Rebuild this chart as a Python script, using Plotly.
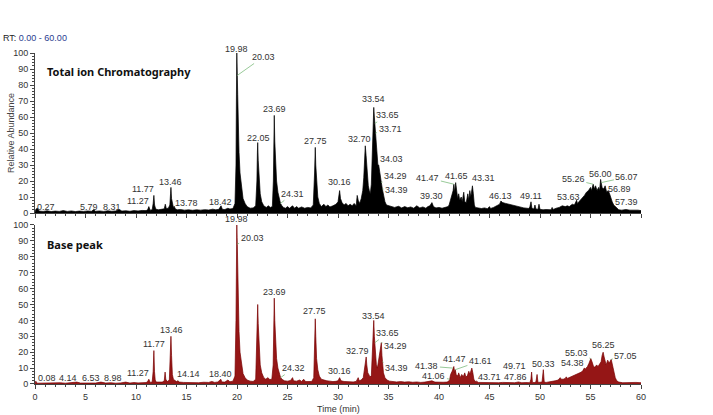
import numpy as np
import plotly.graph_objects as go

# Total ion chromatogram: (retention time [min], relative abundance [%])
TIC = [
    (0.0, 0.5), (0.1, 2.5), (0.27, 3.0), (0.4, 1.2), (0.8, 1.0), (1.2, 1.4), (1.6, 0.9),
    (2.0, 1.2), (2.4, 1.0), (2.8, 1.5), (3.2, 1.0), (3.6, 1.3), (4.0, 0.9), (4.4, 1.2),
    (4.8, 1.0), (5.2, 1.3), (5.6, 1.1), (5.79, 2.0), (6.0, 1.1), (6.4, 1.3), (6.8, 1.0),
    (7.2, 1.4), (7.6, 1.1), (8.0, 1.3), (8.31, 2.2), (8.6, 1.2), (9.0, 1.4), (9.4, 1.1),
    (9.8, 1.5), (10.2, 1.3), (10.6, 1.6), (11.0, 1.5), (11.15, 2.0), (11.27, 4.0),
    (11.4, 1.8), (11.6, 2.0), (11.7, 6.0), (11.77, 11.0), (11.84, 5.0), (11.95, 2.5),
    (12.2, 2.0), (12.5, 2.2), (12.8, 2.6), (12.9, 5.5), (13.0, 2.8), (13.2, 3.0),
    (13.35, 5.0), (13.42, 12.0), (13.46, 16.0), (13.52, 9.0), (13.6, 5.0), (13.7, 3.5),
    (13.78, 4.2), (13.9, 2.5), (14.1, 2.0), (14.4, 2.2), (14.8, 1.8), (15.2, 2.0),
    (15.6, 1.7), (16.0, 2.0), (16.4, 1.8), (16.8, 2.1), (17.2, 1.9), (17.6, 2.4),
    (17.9, 2.0), (18.2, 2.3), (18.42, 4.5), (18.55, 2.3), (18.8, 2.2), (19.1, 3.0),
    (19.3, 2.5), (19.6, 2.8), (19.8, 6.0), (19.9, 30.0), (19.94, 70.0), (19.98, 100.0),
    (20.01, 90.0), (20.03, 86.0), (20.07, 74.0), (20.12, 55.0), (20.2, 38.0), (20.3, 25.0),
    (20.45, 15.0), (20.6, 9.0), (20.8, 6.0), (21.0, 4.0), (21.3, 3.0), (21.6, 3.2),
    (21.85, 4.5), (21.97, 20.0), (22.02, 38.0), (22.05, 44.0), (22.1, 33.0), (22.18, 20.0),
    (22.3, 12.0), (22.45, 7.0), (22.65, 4.5), (22.9, 3.5), (23.1, 4.5), (23.3, 3.5),
    (23.5, 4.0), (23.6, 20.0), (23.65, 48.0), (23.69, 61.0), (23.74, 45.0), (23.82, 30.0),
    (23.92, 20.0), (24.05, 13.0), (24.2, 8.0), (24.31, 6.0), (24.45, 4.5), (24.6, 3.5),
    (24.8, 3.0), (25.0, 4.0), (25.2, 3.0), (25.5, 4.5), (25.7, 3.0), (25.9, 4.0),
    (26.1, 3.0), (26.4, 3.8), (26.7, 3.0), (27.0, 3.5), (27.3, 3.2), (27.55, 5.0),
    (27.68, 25.0), (27.75, 41.0), (27.8, 30.0), (27.88, 18.0), (28.0, 10.0), (28.15, 6.0),
    (28.35, 4.0), (28.6, 5.5), (28.8, 4.0), (29.0, 5.0), (29.2, 3.8), (29.5, 4.5),
    (29.8, 5.5), (30.0, 7.0), (30.1, 10.0), (30.16, 14.0), (30.25, 9.0), (30.4, 6.5),
    (30.6, 5.0), (30.8, 6.0), (31.0, 4.5), (31.2, 5.5), (31.4, 4.5), (31.6, 6.0),
    (31.8, 4.5), (31.9, 11.0), (32.0, 8.0), (32.15, 6.0), (32.3, 9.0), (32.45, 14.0),
    (32.55, 22.0), (32.65, 35.0), (32.7, 42.0), (32.78, 36.0), (32.88, 25.0), (33.0, 17.0),
    (33.1, 14.0), (33.2, 12.0), (33.3, 18.0), (33.4, 35.0), (33.48, 55.0), (33.54, 66.0),
    (33.6, 60.0), (33.65, 56.0), (33.71, 50.0), (33.78, 40.0), (33.88, 34.0), (33.95, 30.0),
    (34.03, 30.0), (34.1, 26.0), (34.2, 22.0), (34.29, 19.0), (34.39, 15.0), (34.5, 11.0),
    (34.65, 7.0), (34.8, 5.0), (35.0, 4.5), (35.3, 4.0), (35.6, 3.5), (36.0, 4.2),
    (36.3, 3.2), (36.6, 4.0), (36.9, 3.3), (37.2, 3.8), (37.5, 3.0), (37.8, 4.5),
    (38.1, 3.2), (38.4, 3.8), (38.7, 3.0), (38.9, 4.0), (39.1, 4.5), (39.3, 6.5),
    (39.45, 4.0), (39.7, 3.2), (40.0, 3.5), (40.3, 3.0), (40.6, 3.6), (40.9, 4.0),
    (41.0, 5.0), (41.15, 9.0), (41.3, 12.0), (41.4, 14.0), (41.47, 18.0), (41.55, 13.0),
    (41.65, 19.0), (41.75, 12.0), (41.85, 9.0), (41.95, 12.0), (42.05, 8.0), (42.2, 10.0),
    (42.3, 7.0), (42.45, 13.0), (42.55, 7.0), (42.7, 6.5), (42.85, 12.0), (42.95, 8.0),
    (43.05, 14.0), (43.15, 10.0), (43.25, 15.0), (43.31, 17.0), (43.4, 12.0), (43.5, 5.0),
    (43.6, 3.5), (43.9, 3.0), (44.2, 2.8), (44.5, 3.2), (44.8, 2.7), (45.0, 4.0),
    (45.1, 2.8), (45.4, 3.5), (45.7, 4.5), (46.0, 5.5), (46.13, 7.5), (46.3, 6.5),
    (46.6, 6.0), (46.9, 5.5), (47.2, 5.0), (47.5, 4.5), (47.8, 4.0), (48.1, 3.5),
    (48.4, 3.2), (48.7, 3.0), (48.9, 2.8), (49.0, 4.0), (49.11, 7.0), (49.2, 3.0),
    (49.4, 2.5), (49.5, 5.0), (49.6, 2.5), (49.8, 2.3), (49.9, 5.5), (50.0, 2.3),
    (50.3, 2.0), (50.6, 2.2), (50.9, 1.8), (51.1, 2.0), (51.2, 3.5), (51.3, 2.2),
    (51.6, 3.0), (51.9, 3.5), (52.2, 4.5), (52.5, 4.0), (52.7, 4.5), (52.9, 4.0),
    (53.2, 5.5), (53.4, 5.0), (53.63, 8.0), (53.7, 6.0), (53.85, 7.0), (54.0, 8.0),
    (54.2, 9.0), (54.4, 11.0), (54.6, 13.0), (54.8, 14.0), (55.0, 16.0), (55.1, 14.0),
    (55.26, 18.0), (55.4, 15.0), (55.5, 17.0), (55.65, 14.0), (55.8, 16.0), (55.9, 14.0),
    (56.0, 21.0), (56.07, 19.0), (56.15, 16.0), (56.3, 15.0), (56.45, 17.0), (56.6, 13.0),
    (56.75, 14.0), (56.89, 12.0), (57.0, 9.0), (57.15, 7.0), (57.3, 5.0), (57.39, 4.5),
    (57.55, 3.0), (57.8, 2.0), (58.1, 1.8), (58.5, 2.2), (58.9, 1.8), (59.3, 2.0),
    (59.7, 1.8), (60.0, 1.5),
]

# Base peak chromatogram: (retention time [min], relative abundance [%])
BPC = [
    (0.0, 0.3), (0.08, 1.8), (0.2, 0.5), (0.6, 0.6), (1.0, 0.4), (1.5, 0.7), (2.0, 0.5),
    (2.5, 0.8), (3.0, 0.5), (3.5, 0.7), (4.14, 1.2), (4.5, 0.6), (5.0, 0.5), (5.5, 0.8),
    (6.0, 0.6), (6.53, 1.2), (7.0, 0.6), (7.5, 0.8), (8.0, 0.5), (8.5, 0.7), (8.98, 1.2),
    (9.4, 0.6), (9.8, 0.9), (10.2, 0.7), (10.6, 0.8), (11.0, 0.9), (11.15, 1.5),
    (11.27, 3.0), (11.4, 1.0), (11.6, 1.2), (11.7, 8.0), (11.77, 21.0), (11.83, 8.0),
    (11.9, 2.5), (12.0, 1.2), (12.3, 1.0), (12.6, 1.2), (12.8, 2.0), (12.88, 7.5),
    (12.95, 3.0), (13.1, 1.5), (13.3, 2.5), (13.4, 16.0), (13.46, 30.0), (13.52, 18.0),
    (13.6, 6.0), (13.7, 3.0), (13.85, 2.0), (14.0, 1.5), (14.14, 2.0), (14.3, 1.2),
    (14.7, 1.0), (15.2, 0.9), (15.7, 1.0), (16.2, 0.8), (16.7, 1.1), (17.2, 1.0),
    (17.5, 1.6), (17.8, 1.0), (18.1, 1.3), (18.4, 3.0), (18.5, 1.3), (18.8, 1.2),
    (19.1, 2.5), (19.3, 1.4), (19.6, 1.8), (19.8, 5.0), (19.9, 40.0), (19.95, 85.0),
    (19.98, 100.0), (20.01, 92.0), (20.03, 88.0), (20.07, 74.0), (20.12, 52.0),
    (20.2, 33.0), (20.3, 20.0), (20.45, 11.0), (20.6, 6.5), (20.8, 4.0), (21.0, 2.5),
    (21.3, 1.8), (21.6, 1.6), (21.85, 3.0), (21.97, 30.0), (22.02, 46.0), (22.05, 50.0),
    (22.1, 38.0), (22.18, 22.0), (22.3, 12.0), (22.45, 7.0), (22.65, 4.0), (22.85, 3.0),
    (23.05, 4.0), (23.25, 2.8), (23.45, 3.0), (23.58, 12.0), (23.64, 40.0), (23.69, 54.0),
    (23.74, 40.0), (23.82, 26.0), (23.92, 16.0), (24.05, 10.0), (24.2, 6.0), (24.32, 4.0),
    (24.5, 2.8), (24.7, 2.0), (25.0, 1.8), (25.3, 2.2), (25.5, 4.0), (25.6, 2.0),
    (25.9, 1.8), (26.2, 2.5), (26.4, 1.6), (26.6, 3.0), (26.8, 1.5), (27.1, 1.7),
    (27.4, 1.6), (27.6, 4.0), (27.7, 28.0), (27.75, 41.0), (27.8, 30.0), (27.88, 16.0),
    (28.0, 9.0), (28.15, 5.0), (28.35, 3.0), (28.6, 2.5), (28.9, 2.0), (29.2, 1.8),
    (29.5, 1.5), (29.8, 1.7), (30.0, 2.0), (30.16, 4.0), (30.3, 2.0), (30.6, 1.6),
    (30.9, 1.4), (31.2, 1.5), (31.5, 1.3), (31.8, 1.6), (32.0, 4.0), (32.1, 2.0),
    (32.3, 2.5), (32.5, 4.0), (32.65, 10.0), (32.74, 15.0), (32.79, 17.0), (32.85, 12.0),
    (32.95, 7.0), (33.05, 6.0), (33.15, 4.5), (33.3, 5.0), (33.42, 20.0), (33.5, 35.0),
    (33.54, 40.0), (33.6, 30.0), (33.65, 26.0), (33.72, 20.0), (33.8, 12.0), (33.9, 10.0),
    (34.0, 14.0), (34.1, 20.0), (34.2, 25.0), (34.29, 26.0), (34.35, 18.0), (34.39, 14.0),
    (34.5, 7.0), (34.65, 4.0), (34.85, 2.5), (35.1, 1.8), (35.4, 1.5), (35.8, 1.3),
    (36.2, 1.5), (36.6, 1.2), (37.0, 1.4), (37.4, 1.1), (37.8, 1.3), (38.2, 1.0),
    (38.6, 1.2), (39.0, 1.5), (39.3, 2.0), (39.6, 1.2), (40.0, 1.0), (40.4, 1.1),
    (40.8, 1.2), (41.0, 2.0), (41.06, 3.0), (41.15, 6.0), (41.3, 8.0), (41.38, 10.0),
    (41.47, 11.0), (41.55, 7.0), (41.61, 9.0), (41.7, 6.0), (41.85, 5.0), (41.95, 7.0),
    (42.1, 4.0), (42.25, 6.0), (42.4, 4.5), (42.55, 7.0), (42.65, 4.5), (42.8, 5.0),
    (42.95, 8.0), (43.05, 6.0), (43.15, 9.0), (43.25, 10.0), (43.35, 7.0), (43.45, 3.0),
    (43.6, 1.5), (43.71, 1.8), (43.9, 1.0), (44.3, 0.9), (44.7, 1.0), (45.1, 0.8),
    (45.5, 1.0), (45.9, 0.8), (46.3, 1.0), (46.7, 0.8), (47.1, 0.9), (47.5, 0.8),
    (47.86, 1.3), (48.2, 0.8), (48.6, 0.9), (49.0, 0.8), (49.1, 3.0), (49.17, 7.5),
    (49.25, 1.0), (49.5, 0.9), (49.6, 1.5), (49.71, 6.0), (49.8, 1.0), (50.0, 0.9),
    (50.2, 1.2), (50.33, 9.0), (50.42, 1.2), (50.6, 1.0), (50.9, 1.2), (51.2, 1.5),
    (51.5, 2.0), (51.8, 2.5), (52.0, 4.0), (52.1, 3.0), (52.3, 3.0), (52.5, 3.5),
    (52.6, 4.5), (52.7, 3.5), (52.9, 4.0), (53.1, 4.5), (53.3, 5.0), (53.5, 5.5),
    (53.7, 6.0), (53.9, 6.5), (54.1, 7.5), (54.25, 8.5), (54.38, 10.0), (54.5, 9.5),
    (54.7, 11.0), (54.85, 13.0), (55.03, 16.0), (55.15, 14.0), (55.3, 11.0), (55.45, 10.5),
    (55.6, 12.0), (55.75, 11.0), (55.9, 13.0), (56.05, 14.0), (56.15, 18.0), (56.25, 20.0),
    (56.35, 17.0), (56.45, 13.0), (56.55, 12.0), (56.7, 15.0), (56.85, 13.0), (57.05, 15.5),
    (57.15, 12.0), (57.3, 7.0), (57.45, 4.0), (57.6, 2.0), (57.8, 1.2), (58.2, 0.8),
    (58.6, 1.0), (59.0, 0.8), (59.5, 1.0), (60.0, 0.8),
]

TIC_PEAK_LABELS = [
    "0.27", "5.79", "8.31", "11.27", "11.77", "13.46", "13.78", "18.42", "19.98", "20.03",
    "22.05", "23.69", "24.31", "27.75", "30.16", "32.70", "33.54", "33.65", "33.71",
    "34.03", "34.29", "34.39", "39.30", "41.47", "41.65", "43.31", "46.13", "49.11",
    "53.63", "55.26", "56.00", "56.07", "56.89", "57.39",
]
BPC_PEAK_LABELS = [
    "0.08", "4.14", "6.53", "8.98", "11.27", "11.77", "13.46", "14.14", "18.40", "19.98",
    "20.03", "23.69", "24.32", "27.75", "30.16", "32.79", "33.54", "33.65", "34.29",
    "34.39", "41.38", "41.06", "41.47", "41.61", "43.71", "49.71", "47.86", "50.33",
    "54.38", "55.03", "56.25", "57.05",
]

# label placement (time, abundance) of each label's centre
TIC_LABEL_POS = {
    "0.27": (1.1, 3.8), "5.79": (5.35, 3.8), "8.31": (7.6, 3.8), "11.27": (10.2, 7.5),
    "11.77": (10.7, 15.0), "13.46": (13.46, 19.4), "13.78": (15.0, 6.0), "18.42": (18.4, 7.0),
    "19.98": (19.97, 102.5), "20.03": (22.6, 97.5), "22.05": (22.1, 47.0),
    "23.69": (23.67, 65.0), "24.31": (25.5, 12.0), "27.75": (27.8, 45.0),
    "30.16": (30.1, 19.4), "32.70": (32.1, 46.0), "33.54": (33.56, 71.0),
    "33.65": (34.9, 61.0), "33.71": (35.15, 52.5), "34.03": (35.3, 34.0),
    "34.29": (35.7, 23.0), "34.39": (35.8, 14.4), "39.30": (39.3, 10.6),
    "41.47": (38.9, 22.0), "41.65": (41.7, 23.0), "43.31": (44.4, 22.0),
    "46.13": (46.1, 10.6), "49.11": (49.1, 10.6), "53.63": (52.8, 10.0),
    "55.26": (53.3, 21.0), "56.00": (56.0, 24.4), "56.07": (58.6, 22.5),
    "56.89": (57.9, 15.0), "57.39": (58.6, 7.0),
}
BPC_LABEL_POS = {
    "0.08": (1.15, 3.8), "4.14": (3.3, 3.8), "6.53": (5.5, 3.8), "8.98": (7.7, 3.8),
    "11.27": (10.2, 7.0), "11.77": (11.8, 25.0), "13.46": (13.47, 34.0), "14.14": (15.2, 6.3),
    "18.40": (18.4, 6.3), "19.98": (19.98, 104.0), "20.03": (21.5, 92.0),
    "23.69": (23.67, 58.0), "24.32": (25.6, 10.0), "27.75": (27.7, 46.0),
    "30.16": (30.1, 8.0), "32.79": (31.9, 21.0), "33.54": (33.56, 43.0),
    "33.65": (34.9, 32.0), "34.29": (35.7, 24.0), "34.39": (35.8, 10.0),
    "41.38": (38.8, 11.3), "41.06": (39.5, 5.0), "41.47": (41.5, 16.0),
    "41.61": (44.1, 14.5), "43.71": (45.0, 4.4), "49.71": (47.5, 11.3),
    "47.86": (47.6, 4.4), "50.33": (50.3, 12.6), "54.38": (53.2, 13.0),
    "55.03": (53.6, 19.5), "56.25": (56.25, 24.5), "57.05": (58.5, 17.6),
}
TIC_LEADERS = {"11.77", "13.78", "20.03", "24.31", "33.65", "33.71", "34.29", "34.39",
               "41.47", "55.26", "56.07", "56.89", "57.39"}
BPC_LEADERS = {"14.14", "20.03", "24.32", "33.65", "34.29", "34.39", "41.38", "41.06",
               "41.61", "55.03", "57.05"}

LABEL_FONT = dict(family="Arial", size=9, color="#333333")
AXIS_COLOR = "#444444"
LEADER_COLOR = "#7dbb7d"


def peak_annotations(points, labels, positions, leaders, xref, yref):
    t = np.array([p[0] for p in points])
    v = np.array([p[1] for p in points])
    out = []
    for lab in labels:
        lx, ly = positions[lab]
        if lab in leaders:
            rt = float(lab)
            out.append(dict(
                x=rt, y=float(np.interp(rt, t, v)), xref=xref, yref=yref,
                ax=lx, ay=ly, axref=xref, ayref=yref, text=lab, showarrow=True,
                arrowhead=0, arrowwidth=0.8, arrowcolor=LEADER_COLOR,
                font=LABEL_FONT, standoff=0,
            ))
        else:
            # domain reference so labels above the 100 % line are not hidden
            out.append(dict(
                x=lx, y=ly / 100.0, xref=xref, yref=yref + " domain", text=lab,
                showarrow=False, xanchor="center", yanchor="middle", font=LABEL_FONT,
            ))
    return out


fig = go.Figure()
fig.add_trace(go.Scatter(
    x=[p[0] for p in TIC], y=[p[1] for p in TIC], xaxis="x2", yaxis="y2",
    mode="lines", fill="tozeroy", fillcolor="#000000",
    line=dict(color="#000000", width=0.7), hoverinfo="skip",
))
fig.add_trace(go.Scatter(
    x=[p[0] for p in BPC], y=[p[1] for p in BPC], xaxis="x", yaxis="y",
    mode="lines", fill="tozeroy", fillcolor="#951616",
    line=dict(color="#7a0000", width=0.7), hoverinfo="skip",
))

yaxis_common = dict(
    range=[0, 100], dtick=10, ticks="outside", ticklen=4, tickwidth=1,
    tickcolor=AXIS_COLOR, showline=True, linecolor=AXIS_COLOR, linewidth=1,
    showgrid=False, zeroline=False, tickfont=dict(family="Arial", size=9, color="#333333"),
    minor=dict(dtick=2, ticks="outside", ticklen=2, tickcolor=AXIS_COLOR),
    fixedrange=True, automargin=False,
)
xaxis_common = dict(
    range=[0, 60], dtick=5, ticks="outside", ticklen=4, tickwidth=1,
    tickcolor=AXIS_COLOR, showline=True, linecolor=AXIS_COLOR, linewidth=1,
    showgrid=False, zeroline=False, tickfont=dict(family="Arial", size=9, color="#333333"),
    minor=dict(dtick=1, ticks="outside", ticklen=2, tickcolor=AXIS_COLOR),
    fixedrange=True, automargin=False,
)

annotations = []
annotations += peak_annotations(TIC, TIC_PEAK_LABELS, TIC_LABEL_POS, TIC_LEADERS, "x2", "y2")
annotations += peak_annotations(BPC, BPC_PEAK_LABELS, BPC_LABEL_POS, BPC_LEADERS, "x", "y")
annotations += [
    dict(x=-34 / 606, y=1.045, xref="paper", yref="paper", xanchor="left", yanchor="middle",
         showarrow=False, text="RT: <span style='color:#2a3d8f'>0.00 - 60.00</span>",
         font=dict(family="Arial", size=9, color="#222222")),
    dict(x=0.0165, y=0.9456, xref="paper", yref="paper", xanchor="left", yanchor="middle",
         showarrow=False, text="<b>Total ion Chromatography</b>",
         font=dict(family="Noto Sans", size=11, color="#111111")),
    dict(x=0.0165, y=0.42, xref="paper", yref="paper", xanchor="left", yanchor="middle",
         showarrow=False, text="<b>Base peak</b>",
         font=dict(family="Noto Sans", size=11, color="#111111")),
    dict(x=-24 / 606, y=0.758, xref="paper", yref="paper", xanchor="center", yanchor="middle",
         showarrow=False, text="Relative Abundance", textangle=-90,
         font=dict(family="Arial", size=9, color="#444444")),
    dict(x=0.5, y=-25 / 331, xref="paper", yref="paper", xanchor="center", yanchor="middle",
         showarrow=False, text="Time (min)",
         font=dict(family="Arial", size=9, color="#333333")),
]

fig.update_layout(
    width=713, height=415,
    margin=dict(l=35, r=72, t=53, b=31),
    paper_bgcolor="white", plot_bgcolor="white",
    showlegend=False,
    xaxis=dict(xaxis_common, anchor="y", ticklabelstandoff=0),
    yaxis=dict(yaxis_common, domain=[0, 0.4804], anchor="x"),
    xaxis2=dict(xaxis_common, anchor="y2", matches="x", showticklabels=False),
    yaxis2=dict(yaxis_common, domain=[0.5166, 1], anchor="x2"),
    annotations=annotations,
)

# drop the browser's default body margin so the figure sits at the page origin
fig.write_html("out.html", config={"displayModeBar": False},
               post_script="document.body.style.margin='0';")
